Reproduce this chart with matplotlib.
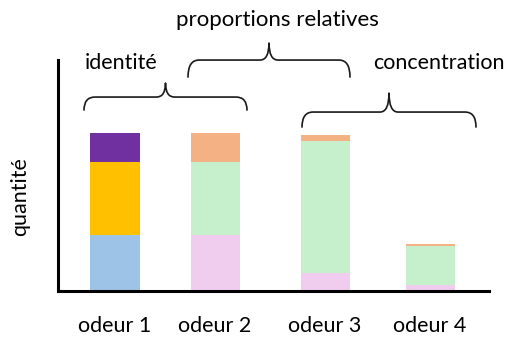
import numpy as np
import matplotlib
matplotlib.use("Agg")
from matplotlib import pyplot as plt
from matplotlib.path import Path
from matplotlib.patches import PathPatch

plt.rcParams['font.family'] = ['Lato', 'DejaVu Sans']

odeurs = ["odeur 1", "odeur 2", "odeur 3", "odeur 4"]

# three stacked components per odour, bottom to top
bas = [56, 56, 18, 6]
milieu = [73, 73, 132, 39.5]
haut = [29, 29, 6, 1.5]

couleurs_bas = ["#9DC3E6", "#F0CDEE", "#F0CDEE", "#F0CDEE"]
couleurs_milieu = ["#FFC000", "#C6EFCC", "#C6EFCC", "#C6EFCC"]
couleurs_haut = ["#7030A0", "#F4B183", "#F4B183", "#F4B183"]

groupes = ["identité", "proportions relatives", "concentration"]

x = np.array([0, 1, 2.1, 3.15])
largeur = 0.49

fig = plt.figure(figsize=(5.16, 3.42), dpi=100)
ax = fig.add_axes([0.1124, 0.149, 0.8353, 0.6754])

b1 = np.array(bas)
b2 = b1 + np.array(milieu)
ax.bar(x, bas, largeur, color=couleurs_bas)
ax.bar(x, milieu, largeur, bottom=b1, color=couleurs_milieu)
ax.bar(x, haut, largeur, bottom=b2, color=couleurs_haut)

ax.set_xlim(-0.57, 3.74)
ax.set_ylim(0, 231)

for s in ["top", "right"]:
    ax.spines[s].set_visible(False)
for s in ["left", "bottom"]:
    ax.spines[s].set_linewidth(2.2)

ax.set_yticks([])
ax.set_xticks(x)
ax.set_xticklabels(odeurs, fontsize=15.5)
ax.tick_params(axis="x", length=0, pad=18)
ax.set_ylabel("quantité", fontsize=15.5)
ax.yaxis.set_label_coords(-0.065, 0.41)


def accolade(x0, x1, yb, yh, yp):
    # curly brace opening downward
    xm = (x0 + x1) / 2
    r = 0.11
    c = 0.09
    verts = [(x0, yb), (x0, yh), (x0 + r, yh),
             (xm - c, yh),
             (xm, yh), (xm, yp),
             (xm, yh), (xm + c, yh),
             (x1 - r, yh),
             (x1, yh), (x1, yb)]
    codes = [Path.MOVETO, Path.CURVE3, Path.CURVE3,
             Path.LINETO,
             Path.CURVE3, Path.CURVE3,
             Path.CURVE3, Path.CURVE3,
             Path.LINETO,
             Path.CURVE3, Path.CURVE3]
    p = PathPatch(Path(verts, codes), fill=False, lw=1.2, color="#1a1a1a",
                  clip_on=False, capstyle="round", joinstyle="round")
    ax.add_patch(p)
    return xm


m1 = accolade(-0.31, 1.32, 181, 194, 208)
m2 = accolade(0.73, 2.35, 214, 231, 248)
m3 = accolade(1.87, 3.61, 164, 179, 198)

ax.text(0.06, 228, groupes[0], fontsize=15.5, ha="center", va="center", clip_on=False)
ax.text(m2 + 0.08, 271, groupes[1], fontsize=16, ha="center", va="center", clip_on=False)
ax.text(3.24, 228, groupes[2], fontsize=15.5, ha="center", va="center", clip_on=False)

fig.savefig("out.png", dpi=100)
